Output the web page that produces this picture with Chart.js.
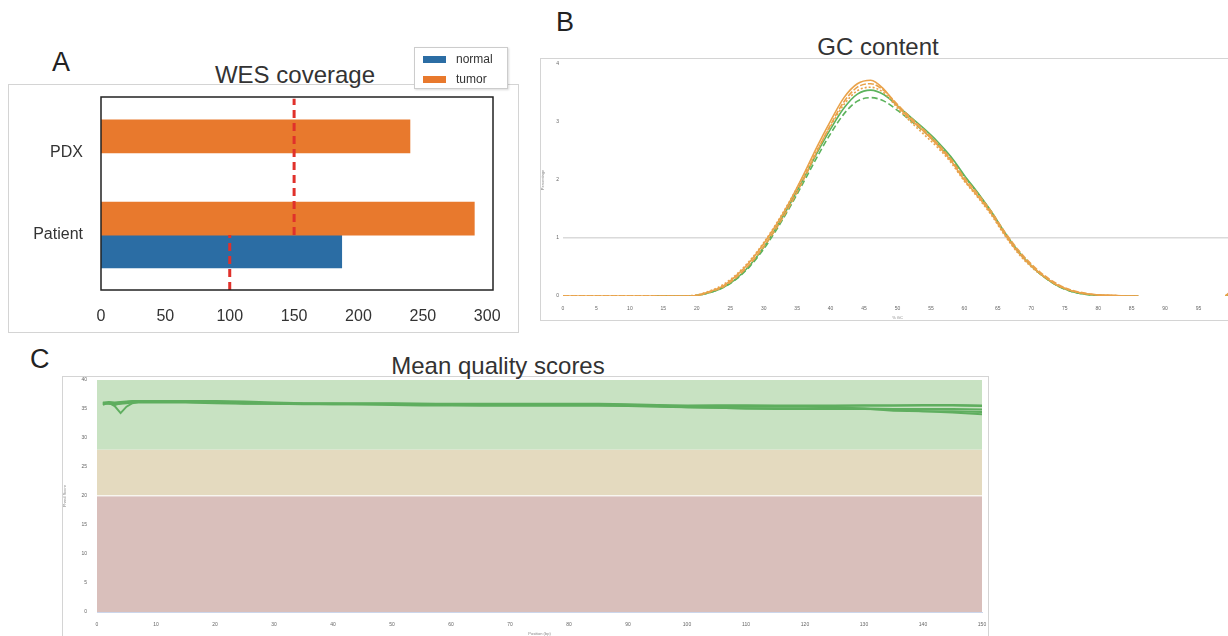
<!DOCTYPE html>
<html>
<head>
<meta charset="utf-8">
<script src="https://cdn.jsdelivr.net/npm/chart.js@4.4.0/dist/chart.umd.min.js"></script>
<style>
  body { margin: 0; width: 1228px; height: 636px; overflow: hidden; background: #fff; position: relative;
         font-family: "Liberation Sans", Arial, sans-serif; }
  .frame { position: absolute; border: 1px solid #d4d4d4; box-sizing: border-box; }
  .box { position: absolute; }
  .letter { position: absolute; font-size: 27px; line-height: 27px; color: #222; }
  .title { position: absolute; font-size: 24px; line-height: 24px; color: #333; white-space: nowrap; transform: translateX(-50%); }
  #legendA { position: absolute; left: 414px; top: 47px; width: 94px; height: 42px; border: 1px solid #ccc;
             box-sizing: border-box; background: #fff; box-shadow: 1px 1px 2px rgba(0,0,0,0.15); font-size: 12px; color: #333; }
  #legendA .row { position: absolute; left: 8px; height: 14px; line-height: 14px; }
  #legendA .sw { display: inline-block; width: 23px; height: 7px; vertical-align: middle; margin-right: 10px; }
</style>
</head>
<body>

<div class="frame" style="left:8px;top:84px;width:511px;height:249px"></div>
<div class="frame" style="left:540px;top:58px;width:700px;height:263px"></div>
<div class="frame" style="left:62px;top:376px;width:927px;height:270px"></div>

<div class="letter" style="left:52px;top:49px">A</div>
<div class="letter" style="left:556px;top:9px">B</div>
<div class="letter" style="left:30px;top:346px">C</div>

<div class="title" style="left:295px;top:63px">WES coverage</div>
<div class="title" style="left:878px;top:35px">GC content</div>
<div class="title" style="left:498px;top:354px">Mean quality scores</div>

<div class="box" style="left:8px;top:84px;width:510px;height:248px"><canvas id="covChart"></canvas></div>
<div class="box" style="left:540px;top:58px;width:700px;height:262px"><canvas id="gcChart"></canvas></div>
<div class="box" style="left:62px;top:376px;width:926px;height:260px"><canvas id="qualChart"></canvas></div>

<div id="legendA"></div>

<script>
// ---- Panel A: WES coverage ----
const covCategories = ["Patient", "PDX"];
const covNormal = [187, null];
const covTumor = [290, 240];
const covNormalThreshold = 100;
const covTumorThreshold = 150;
const covTicks = [0, 50, 100, 150, 200, 250, 300];

// ---- Panel B: GC content ----
const gcPct = [0,2,4,6,8,10,12,14,16,18,20,22,24,26,28,30,32,34,36,38,40,42,44,46,48,50,
  52,54,56,58,60,62,64,66,68,70,72,74,76,78,80,82,84,86,88,90,92,94,96,98,99,100];
const gcOrangeA = [0,0,0,0,0,0,0,0,0,0,0.01,0.08,0.18,0.36,0.6,0.9,1.25,1.65,2.1,2.58,3.02,3.42,3.66,3.72,3.56,3.27,
  3.04,2.83,2.6,2.33,2.0,1.72,1.42,1.07,0.76,0.52,0.33,0.18,0.09,0.04,0.02,0.01,0,0,null,null,null,null,null,null,0,0.1];
const gcOrangeB = [0,0,0,0,0,0,0,0,0,0,0.01,0.07,0.16,0.33,0.56,0.85,1.19,1.58,2.02,2.5,2.95,3.35,3.6,3.66,3.54,3.3,
  3.07,2.86,2.63,2.36,2.04,1.76,1.46,1.11,0.8,0.55,0.35,0.2,0.1,0.05,0.02,0.01,0,0,null,null,null,null,null,null,0,0.08];
const gcOrangeC = [0,0,0,0,0,0,0,0,0,0,0.02,0.09,0.2,0.38,0.62,0.92,1.27,1.66,2.08,2.52,2.93,3.3,3.54,3.6,3.5,3.24,
  3.0,2.78,2.56,2.3,1.98,1.7,1.4,1.05,0.74,0.5,0.32,0.18,0.09,0.04,0.02,0.01,0,0,null,null,null,null,null,null,0,0.06];
const gcGreenA = [null,null,null,null,null,null,null,0,0,0,0.01,0.06,0.15,0.31,0.54,0.84,1.2,1.6,2.03,2.47,2.88,3.24,3.48,3.55,3.47,3.28,
  3.08,2.88,2.66,2.4,2.08,1.78,1.46,1.1,0.78,0.52,0.32,0.17,0.08,0.03,0.01,0,0,0,null,null,null,null,null,null,0,0.05];
const gcGreenB = [null,null,null,null,null,null,null,0,0,0,0.01,0.06,0.15,0.3,0.52,0.81,1.16,1.55,1.97,2.4,2.8,3.14,3.36,3.42,3.36,3.2,
  3.02,2.83,2.62,2.37,2.06,1.77,1.45,1.09,0.77,0.52,0.32,0.17,0.08,0.03,0.01,0,0,0,null,null,null,null,null,null,0,0.03];

// ---- Panel C: Mean quality scores ----
const qualPos = [1,2,3,4,5,6,7,8,9,10,15,20,25,30,35,40,45,50,55,60,65,70,75,80,85,90,95,100,105,110,115,120,125,130,135,140,145,150];
const qualS1 = [36.0,36.2,36.1,36.2,36.3,36.4,36.4,36.4,36.4,36.4,36.4,36.4,36.3,36.1,36.0,36.0,36.0,36.0,35.9,35.9,35.9,35.9,35.9,35.9,35.9,35.8,35.7,35.6,35.6,35.6,35.6,35.6,35.6,35.6,35.6,35.6,35.6,35.5];
const qualS2 = [35.7,36.1,35.5,34.3,35.4,36.0,36.2,36.3,36.3,36.3,36.3,36.3,36.1,36.0,35.9,35.9,35.9,35.9,35.9,35.8,35.8,35.8,35.8,35.8,35.8,35.7,35.6,35.4,35.4,35.4,35.4,35.4,35.3,35.1,34.7,34.6,34.6,34.5];
const qualS3 = [35.9,36.0,35.7,36.0,36.1,36.2,36.2,36.2,36.2,36.2,36.2,36.2,36.0,35.9,35.8,35.8,35.8,35.8,35.7,35.7,35.6,35.6,35.6,35.6,35.6,35.6,35.5,35.3,35.2,35.1,35.1,35.1,35.1,35.1,35.0,35.0,35.0,34.9];
const qualS4 = [36.1,36.1,36.0,36.1,36.2,36.3,36.3,36.3,36.3,36.3,36.2,36.1,36.0,36.0,35.9,35.9,35.8,35.8,35.8,35.7,35.7,35.7,35.7,35.7,35.7,35.6,35.5,35.5,35.6,35.6,35.5,35.5,35.5,35.6,35.6,35.7,35.7,35.6];
const qualS5 = [36.0,35.9,35.8,35.9,36.0,36.1,36.1,36.1,36.1,36.1,36.1,36.0,35.9,35.9,35.9,35.8,35.8,35.7,35.6,35.6,35.6,35.6,35.6,35.6,35.6,35.5,35.4,35.3,35.2,35.1,35.0,35.0,35.0,35.0,34.9,34.6,34.4,34.1];
const qualBands = [
  { from: 0, to: 20, color: "#d9bfbb" },
  { from: 20, to: 28, color: "#e4dabf" },
  { from: 28, to: 40, color: "#c8e2c2" }
];

const BLUE = "#2b6da4";
const ORANGE = "#e8792d";
const RED = "#e0312b";
const GC_ORANGE = "#e9a24a";
const GC_GREEN = "#5cb35c";
const Q_GREEN = "#5fae5f";

// legend for panel A
const legendA = document.getElementById("legendA");
[["normal", BLUE], ["tumor", ORANGE]].forEach(([name, col], i) => {
  const row = document.createElement("div");
  row.className = "row";
  row.style.top = (4 + i * 20) + "px";
  row.innerHTML = `<span class="sw" style="background:${col}"></span>${name}`;
  legendA.appendChild(row);
});

// draws a box round the plot area
const frameBox = {
  id: "frameBox",
  afterDraw(chart, args, opts) {
    if (!opts.color) return;
    const { ctx, chartArea: a } = chart;
    ctx.save();
    ctx.strokeStyle = opts.color;
    ctx.lineWidth = opts.width || 1;
    ctx.strokeRect(a.left, a.top, a.right - a.left, a.bottom - a.top);
    ctx.restore();
  }
};

// coloured bands behind the quality lines
const bandsPlugin = {
  id: "bands",
  beforeDraw(chart, args, opts) {
    if (!opts.bands) return;
    const { ctx, chartArea: a, scales: { y } } = chart;
    ctx.save();
    opts.bands.forEach(b => {
      const top = y.getPixelForValue(b.to);
      const bot = y.getPixelForValue(b.from);
      ctx.fillStyle = b.color;
      ctx.fillRect(a.left, top, a.right - a.left, bot - top);
    });
    ctx.restore();
  }
};

Chart.register(frameBox, bandsPlugin);

const tinyFont = { family: "Liberation Sans", size: 5 };
// fixed axis size, no extra room for half labels
const fixW = w => s => { s.width = w; s.paddingTop = 0; s.paddingBottom = 0; };
const fixH = h => s => { s.height = h; s.paddingLeft = 0; s.paddingRight = 0; };

// ---- chart A ----
const barOffset = 0.2;
new Chart(document.getElementById("covChart"), {
  type: "bar",
  data: {
    datasets: [
      {
        label: "tumor",
        data: covCategories.map((c, i) => ({ x: covTumor[i], y: i + barOffset })).filter(d => d.x != null),
        backgroundColor: ORANGE, barThickness: 33, grouped: false, order: 2
      },
      {
        label: "normal",
        data: covCategories.map((c, i) => ({ x: covNormal[i], y: i - barOffset })).filter(d => d.x != null),
        backgroundColor: BLUE, barThickness: 33, grouped: false, order: 2
      },
      {
        type: "scatter", showLine: true, order: 0,
        data: [{ x: covTumorThreshold, y: 0 }, { x: covTumorThreshold, y: 1.66 }],
        borderColor: RED, borderWidth: 3, borderDash: [8, 5], pointRadius: 0
      },
      {
        type: "scatter", showLine: true, order: 0,
        data: [{ x: covNormalThreshold, y: -0.67 }, { x: covNormalThreshold, y: 0 }],
        borderColor: RED, borderWidth: 3, borderDash: [8, 5], pointRadius: 0
      }
    ]
  },
  options: {
    indexAxis: "y",
    responsive: true,
    maintainAspectRatio: false,
    animation: false,
    layout: { padding: { top: 13, right: 25, left: 0, bottom: 0 } },
    plugins: { legend: { display: false }, tooltip: { enabled: false }, frameBox: { color: "#222", width: 1.5 } },
    scales: {
      x: {
        type: "linear", min: 0, max: 304.5,
        afterBuildTicks: s => { s.ticks = covTicks.map(v => ({ value: v })); },
        afterFit: fixH(42),
        grid: { display: false }, border: { display: false },
        ticks: { color: "#333", font: { family: "Liberation Sans", size: 16 }, padding: 9, maxRotation: 0 }
      },
      y: {
        type: "linear", min: -0.67, max: 1.68, offset: false,
        afterBuildTicks: s => { s.ticks = covCategories.map((c, i) => ({ value: i })); },
        afterFit: fixW(93),
        grid: { display: false }, border: { display: false },
        ticks: { color: "#333", font: { family: "Liberation Sans", size: 16 }, padding: 10,
                 callback: v => covCategories[v] }
      }
    }
  }
});

// ---- chart B ----
const gcSeries = [
  { data: gcOrangeA, color: GC_ORANGE, dash: [] },
  { data: gcOrangeB, color: GC_ORANGE, dash: [6, 2] },
  { data: gcOrangeC, color: GC_ORANGE, dash: [2, 2] },
  { data: gcGreenA, color: GC_GREEN, dash: [] },
  { data: gcGreenB, color: GC_GREEN, dash: [6, 3] }
];
new Chart(document.getElementById("gcChart"), {
  type: "line",
  data: {
    datasets: gcSeries.map(s => ({
      data: gcPct.map((p, i) => ({ x: p, y: s.data[i] })),
      borderColor: s.color, borderWidth: 1.6, borderDash: s.dash,
      pointRadius: 0, cubicInterpolationMode: "monotone", spanGaps: false
    }))
  },
  options: {
    responsive: true,
    maintainAspectRatio: false,
    animation: false,
    layout: { padding: { top: 6, right: 8, left: 0, bottom: 0 } },
    plugins: { legend: { display: false }, tooltip: { enabled: false } },
    scales: {
      x: {
        type: "linear", min: 0, max: 100,
        afterFit: fixH(24),
        grid: { display: false }, border: { display: false },
        ticks: { stepSize: 5, color: "#666", font: tinyFont, padding: 2, maxRotation: 0 },
        title: { display: true, text: "% GC", color: "#888", font: { family: "Liberation Sans", size: 4 }, padding: 0 }
      },
      y: {
        min: 0, max: 4,
        afterFit: fixW(23),
        grid: { color: c => c.tick.value === 1 ? "#dadada" : "transparent", lineWidth: 1.5, drawTicks: false },
        border: { display: false },
        ticks: { stepSize: 1, color: "#666", font: tinyFont, padding: 4 },
        title: { display: true, text: "Percentage", color: "#888", font: { family: "Liberation Sans", size: 4 }, padding: 0 }
      }
    }
  }
});

// ---- chart C ----
const qualSeries = [qualS1, qualS2, qualS3, qualS4, qualS5];
new Chart(document.getElementById("qualChart"), {
  type: "line",
  data: {
    datasets: qualSeries.map(s => ({
      data: qualPos.map((p, i) => ({ x: p, y: s[i] })),
      borderColor: Q_GREEN, borderWidth: 2, pointRadius: 0, tension: 0
    }))
  },
  options: {
    responsive: true,
    maintainAspectRatio: false,
    animation: false,
    layout: { padding: { top: 4, right: 6, left: 0, bottom: 0 } },
    plugins: { legend: { display: false }, tooltip: { enabled: false }, bands: { bands: qualBands } },
    scales: {
      x: {
        type: "linear", min: 0, max: 150,
        afterFit: fixH(24),
        grid: { display: false }, border: { display: true, color: "#ccd6eb", width: 1 },
        ticks: { stepSize: 10, color: "#666", font: tinyFont, padding: 2, maxRotation: 0 },
        title: { display: true, text: "Position (bp)", color: "#888", font: { family: "Liberation Sans", size: 4 }, padding: 0 }
      },
      y: {
        min: 0, max: 40,
        afterFit: fixW(35),
        grid: { color: c => c.tick.value === 20 ? "rgba(255,255,255,0.75)" : "transparent", lineWidth: 1.5, drawTicks: false },
        border: { display: false },
        ticks: { stepSize: 5, color: "#666", font: tinyFont, padding: 10 },
        title: { display: true, text: "Phred Score", color: "#888", font: { family: "Liberation Sans", size: 4 }, padding: 0 }
      }
    }
  }
});
</script>
</body>
</html>
